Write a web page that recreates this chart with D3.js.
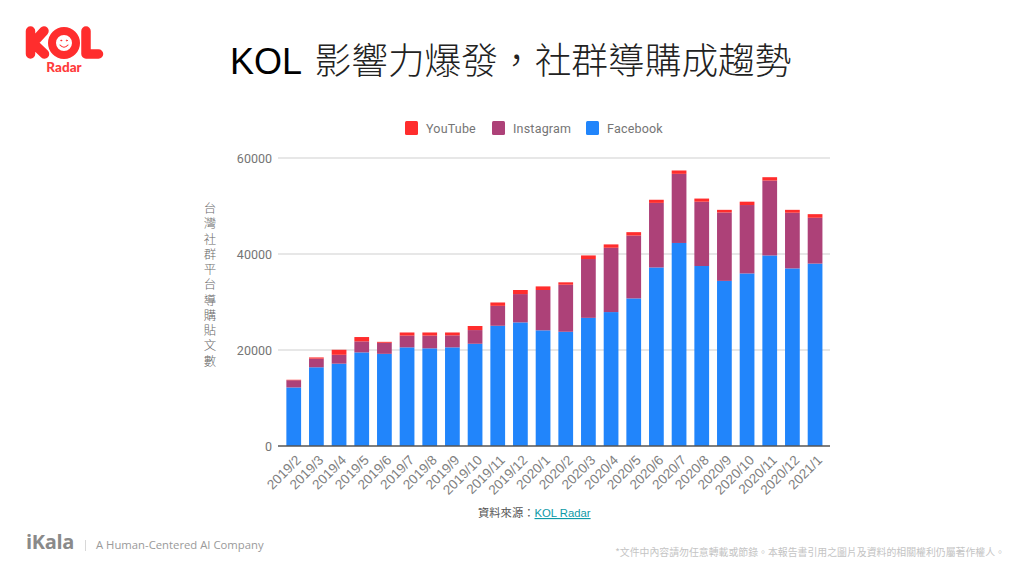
<!DOCTYPE html>
<html lang="zh-TW"><head><meta charset="utf-8">
<script src="https://d3js.org/d3.v7.min.js"></script>
<style>
html,body{margin:0;padding:0;background:#fff;overflow:hidden}
svg{display:block}
.xa path,.ya path,.xa line,.ya line{display:none}
</style></head><body>
<svg id="c" width="1024" height="576"></svg>
<script>
const categories = ["2019/2","2019/3","2019/4","2019/5","2019/6","2019/7","2019/8","2019/9","2019/10","2019/11","2019/12","2020/1","2020/2","2020/3","2020/4","2020/5","2020/6","2020/7","2020/8","2020/9","2020/10","2020/11","2020/12","2021/1"];
const facebook = [12200,16400,17150,19500,19200,20550,20350,20550,21300,25050,25750,24100,23800,26700,27900,30750,37200,42300,37500,34400,35950,39700,37000,38000];
const instagram = [1500,1800,1850,2300,2300,2450,2650,2500,2850,4150,5900,8400,9800,12250,13400,13100,13450,14400,13400,14250,14250,15600,11600,9550];
const youtube = [100,250,1050,900,200,650,650,600,850,700,850,750,500,750,700,700,650,700,650,550,700,700,600,750];
const seriesNames = ["Facebook","Instagram","YouTube"];
const legendNames = ["YouTube","Instagram","Facebook"];
const colors = {YouTube:"#ff2d2d",Instagram:"#ad4178",Facebook:"#2185fb"};
const yTicks = [0,20000,40000,60000];
const yTitle = "台灣社群平台導購貼文數";
const titleLatin = "KOL";
const titleCjk = "影響力爆發，社群導購成趨勢";

const svg = d3.select("#c");
const sans = "'Liberation Sans','Noto Sans CJK TC',sans-serif";
const cjk = "'Noto Sans CJK TC',sans-serif";
const x = d3.scaleBand().domain(categories).range([282.4,826.4]).paddingInner(0.35).paddingOuter(0.175);
const y = d3.scaleLinear().domain([0,60000]).range([446,158]);

const rows = categories.map((c,i)=>({c,Facebook:facebook[i],Instagram:instagram[i],YouTube:youtube[i]}));
const stacked = d3.stack().keys(seriesNames)(rows);

// title
svg.append("text").attr("x",230).attr("y",74).attr("font-family",sans).attr("font-size",36).attr("fill","#000").text(titleLatin);
svg.append("text").attr("x",314.5).attr("y",74).attr("font-family",cjk).attr("font-weight",300).attr("font-size",36.7).attr("fill","#222").text(titleCjk);

// gridlines
svg.append("g").selectAll("line").data(yTicks.filter(d=>d>0)).join("line")
  .attr("x1",278).attr("x2",830).attr("y1",d=>y(d)).attr("y2",d=>y(d))
  .attr("stroke","#d0d0d0").attr("stroke-width",1.2);

// bars
svg.append("g").selectAll("g").data(stacked).join("g").attr("fill",d=>colors[d.key])
  .selectAll("rect").data(d=>d).join("rect")
  .attr("x",d=>x(d.data.c)).attr("width",x.bandwidth())
  .attr("y",d=>y(d[1])).attr("height",d=>y(d[0])-y(d[1]));

// baseline
svg.append("line").attr("x1",278).attr("x2",830).attr("y1",y(0)).attr("y2",y(0)).attr("stroke","#555").attr("stroke-width",1.3);

// y axis
const ya = svg.append("g").attr("class","ya").attr("transform","translate(272,0)")
  .call(d3.axisLeft(y).tickValues(yTicks).tickFormat(d3.format("d")).tickSize(0).tickPadding(0));
ya.selectAll("text").attr("font-family","Roboto,sans-serif").attr("font-size",12.5).attr("fill","#757575");

// x axis
const xa = svg.append("g").attr("class","xa").attr("transform","translate(0,446)")
  .call(d3.axisBottom(x).tickSize(0).tickPadding(0));
xa.selectAll("text").attr("font-family",sans).attr("font-size",13.5).attr("fill","#808080")
  .attr("text-anchor","end").attr("dy",0)
  .attr("transform","translate(8,15) rotate(-45)");

// y title, one vertical text
svg.append("text").attr("x",210).attr("y",202)
  .style("writing-mode","vertical-rl").style("text-orientation","upright")
  .attr("letter-spacing",2.77)
  .attr("font-family",cjk).attr("font-size",12.5).attr("font-weight",300).attr("fill","#6a6a6a").text(yTitle);

// legend
const legendX = {YouTube:405,Instagram:492,Facebook:586};
const lg = svg.append("g").selectAll("g").data(legendNames).join("g")
  .attr("transform",d=>`translate(${legendX[d]},121)`);
lg.append("rect").attr("width",13).attr("height",14).attr("rx",1.5).attr("fill",d=>colors[d]);
lg.append("text").attr("x",21).attr("y",12).attr("font-family","Roboto,sans-serif").attr("font-size",12.5).attr("letter-spacing",0.2).attr("fill","#757575").text(d=>d);

// source
const src = svg.append("text").attr("x",478).attr("y",517).attr("font-family",sans).attr("font-size",11.3).attr("fill","#555");
src.append("tspan").text("資料來源：");
src.append("tspan").attr("fill","#0e9aa7").attr("text-decoration","underline").text("KOL Radar");

// KOL Radar logo
const logo = svg.append("g").attr("fill","none").attr("stroke","#ff2d2d").attr("stroke-linecap","round").attr("stroke-linejoin","round");
logo.append("path").attr("stroke-width",9.5).attr("d","M30.5 31V54 M44 31L33 43L44.5 54");
logo.append("circle").attr("cx",64).attr("cy",43).attr("r",12).attr("stroke-width",8).attr("fill","#fff");
logo.append("path").attr("stroke-width",9.5).attr("d","M86 31V54H98.5");
logo.append("path").attr("stroke-width",1.1).attr("d","M60 45Q64 49.5 68 45");
logo.append("circle").attr("cx",61.2).attr("cy",40.5).attr("r",.5).attr("stroke-width",1);
logo.append("circle").attr("cx",66.8).attr("cy",40.5).attr("r",.5).attr("stroke-width",1);
svg.append("text").attr("x",64).attr("y",72).attr("text-anchor","middle").attr("font-family","Lato,sans-serif").attr("font-weight",900).attr("font-size",13.5).attr("fill","#ff3b3b").text("Radar");

// footer
svg.append("text").attr("x",26).attr("y",549).attr("font-family","'Open Sans',sans-serif").attr("font-weight",700).attr("font-size",20).attr("letter-spacing",-0.3).attr("fill","#8a8a8a").text("iKala");
svg.append("line").attr("x1",85.5).attr("x2",85.5).attr("y1",540).attr("y2",551).attr("stroke","#d8d8d8");
svg.append("text").attr("x",96).attr("y",549).attr("font-family","'Open Sans',sans-serif").attr("font-size",11.3).attr("fill","#9a9a9a").text("A Human-Centered AI Company");
svg.append("text").attr("x",1005).attr("y",556).attr("text-anchor","end").attr("font-family",cjk).attr("font-size",9.9).attr("fill","#c4c4c4").text("*文件中內容請勿任意轉載或節錄。本報告書引用之圖片及資料的相關權利仍屬著作權人。");
</script>
</body></html>
